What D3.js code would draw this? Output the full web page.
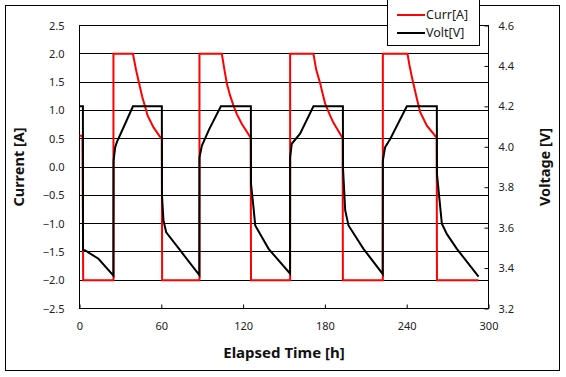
<!DOCTYPE html>
<html>
<head>
<meta charset="utf-8">
<script src="https://cdn.jsdelivr.net/npm/d3@7"></script>
<style>
  body { margin: 0; background: #fff; }
  text { font-family: "Noto Sans", "DejaVu Sans", sans-serif; }
</style>
</head>
<body>
<div id="chart"></div>
<script>
// current [A] vs elapsed time [h]
const currData = [
  [0, 0.55], [2.2, 0.55], [2.7, -2.0],
  [24.9, -2.0], [24.9, 2.0], [39.2, 2.0], [41.6, 1.70], [43.8, 1.47], [46.0, 1.24], [48.2, 1.06],
  [49.9, 0.91], [54.3, 0.70], [59.2, 0.53], [60.4, 0.50], [60.6, -2.0],
  [88.0, -2.0], [88.0, 2.0], [104.4, 2.0], [106.3, 1.72], [108.1, 1.47], [110.5, 1.26], [113.0, 1.08],
  [115.5, 0.93], [119.1, 0.76], [125.2, 0.53], [125.6, 0.50], [125.8, -2.0],
  [154.5, -2.0], [154.5, 2.0], [171.6, 2.0], [173.6, 1.72], [176.6, 1.47], [178.5, 1.28], [180.2, 1.12],
  [184.0, 0.90], [186.3, 0.78], [192.5, 0.53], [193.0, 0.50], [193.2, -2.0],
  [222.5, -2.0], [222.5, 2.0], [240.6, 2.0], [242.0, 1.80], [243.8, 1.59], [247.5, 1.20], [249.9, 0.97],
  [254.8, 0.73], [261.6, 0.53], [262.0, 0.50], [262.2, -2.0],
  [292.7, -2.0]
];

// voltage [V] vs elapsed time [h]
const voltData = [
  [0, 4.2], [2.5, 4.2], [2.6, 3.49], [4.2, 3.487], [13.9, 3.446], [24.9, 3.363],
  [25.0, 3.932], [26.2, 3.998], [27.4, 4.023], [33.5, 4.114], [39.2, 4.2], [60.4, 4.2],
  [60.5, 3.759], [61.6, 3.635], [63.6, 3.577], [73.9, 3.487], [87.9, 3.365],
  [88.0, 3.948], [89.8, 4.006], [95.0, 4.085], [103.7, 4.2], [125.7, 4.2],
  [125.8, 3.817], [127.6, 3.701], [128.9, 3.611], [138.7, 3.495], [154.4, 3.373],
  [154.5, 3.948], [155.7, 4.015], [161.8, 4.065], [171.6, 4.2], [193.2, 4.2],
  [193.3, 3.891], [194.9, 3.685], [197.3, 3.611], [208.3, 3.495], [222.4, 3.371],
  [222.5, 3.932], [224.2, 3.998], [227.9, 4.039], [240.1, 4.2], [262.1, 4.2],
  [262.2, 3.866], [264.6, 3.701], [265.8, 3.619], [269.4, 3.569], [276.8, 3.495], [292.7, 3.358]
];

const xTicks = [0, 60, 120, 180, 240, 300];
const currTicks = [-2.5, -2.0, -1.5, -1.0, -0.5, 0.0, 0.5, 1.0, 1.5, 2.0, 2.5];
const voltTicks = [3.2, 3.4, 3.6, 3.8, 4.0, 4.2, 4.4, 4.6];
const legendItems = [
  { label: "Curr[A]", color: "#ff0000" },
  { label: "Volt[V]", color: "#000000" }
];

const width = 566, height = 377;
const plot = { left: 79.5, right: 488.5, top: 25.5, bottom: 308.5 };

const svg = d3.select("#chart").append("svg")
  .attr("width", width)
  .attr("height", height);

// outer frame
svg.append("rect")
  .attr("x", 5.5).attr("y", 5.5)
  .attr("width", 554).attr("height", 365)
  .attr("fill", "none").attr("stroke", "#000").attr("stroke-width", 1);

const x = d3.scaleLinear().domain([0, 300]).range([plot.left, plot.right]);
const yC = d3.scaleLinear().domain([-2.5, 2.5]).range([plot.bottom, plot.top]);
const yV = d3.scaleLinear().domain([3.2, 4.6]).range([plot.bottom, plot.top]);

// gridlines (skip the two that sit on the border)
svg.append("g")
  .selectAll("line")
  .data(currTicks.slice(1, -1))
  .enter().append("line")
  .attr("x1", plot.left).attr("x2", plot.right)
  .attr("y1", d => Math.floor(yC(d)) + 0.5)
  .attr("y2", d => Math.floor(yC(d)) + 0.5)
  .attr("stroke", "#000").attr("stroke-width", 1);

// plot border
svg.append("rect")
  .attr("x", plot.left).attr("y", plot.top)
  .attr("width", plot.right - plot.left).attr("height", plot.bottom - plot.top)
  .attr("fill", "none").attr("stroke", "#000").attr("stroke-width", 1);

// axes
let xAxis = svg.append("g")
  .attr("transform", `translate(0,${plot.bottom})`)
  .call(d3.axisBottom(x).tickValues(xTicks).tickSizeInner(-4).tickSizeOuter(0).tickPadding(14));

let leftAxis = svg.append("g")
  .attr("transform", `translate(${plot.left},0)`)
  .call(d3.axisLeft(yC).tickValues(currTicks).tickFormat(d3.format(".1f")).tickSizeInner(0).tickSizeOuter(0).tickPadding(15));

let rightAxis = svg.append("g")
  .attr("transform", `translate(${plot.right},0)`)
  .call(d3.axisRight(yV).tickValues(voltTicks).tickFormat(d3.format(".1f")).tickSizeInner(-4).tickSizeOuter(0).tickPadding(10));

[xAxis, leftAxis, rightAxis].forEach(a => {
  a.select(".domain").remove();
  a.selectAll("text").attr("font-size", 11).attr("fill", "#222");
  a.selectAll("line").attr("stroke", "#000");
});

// series
const lineC = d3.line().x(d => x(d[0])).y(d => yC(d[1]));
const lineV = d3.line().x(d => x(d[0])).y(d => yV(d[1]));

svg.append("path")
  .datum(currData)
  .attr("d", lineC)
  .attr("fill", "none")
  .attr("stroke", "#ff0000")
  .attr("stroke-width", 2);

svg.append("path")
  .datum(voltData)
  .attr("d", lineV)
  .attr("fill", "none")
  .attr("stroke", "#000")
  .attr("stroke-width", 2);

// axis titles
svg.append("text")
  .attr("transform", `translate(${(plot.left + plot.right) / 2},358)`)
  .attr("text-anchor", "middle")
  .attr("font-size", 15)
  .attr("font-weight", "bold")
  .attr("fill", "#111")
  .text("Elapsed Time [h]");

svg.append("text")
  .attr("transform", `translate(24,${(plot.top + plot.bottom) / 2}) rotate(-90)`)
  .attr("text-anchor", "middle")
  .attr("font-size", 14.5)
  .attr("font-weight", "bold")
  .attr("fill", "#111")
  .text("Current [A]");

svg.append("text")
  .attr("transform", `translate(550,${(plot.top + plot.bottom) / 2}) rotate(-90)`)
  .attr("text-anchor", "middle")
  .attr("font-size", 14.5)
  .attr("font-weight", "bold")
  .attr("fill", "#111")
  .text("Voltage [V]");

// legend
let legend = svg.append("g").attr("class", "legend");
legend.append("rect")
  .attr("x", 387.5).attr("y", -5.5)
  .attr("width", 92).attr("height", 51)
  .attr("fill", "#fff").attr("stroke", "#000").attr("stroke-width", 1);

let items = legend.selectAll(".legend-item")
  .data(legendItems)
  .enter().append("g")
  .attr("class", "legend-item")
  .attr("transform", (d, i) => `translate(397,${15 + i * 18})`);

items.append("line")
  .attr("x1", 0).attr("x2", 28)
  .attr("y1", 0).attr("y2", 0)
  .attr("stroke", d => d.color)
  .attr("stroke-width", 2);

items.append("text")
  .attr("x", 29)
  .attr("y", 0)
  .attr("dy", "0.35em")
  .attr("font-size", 12.5)
  .attr("fill", "#222")
  .text(d => d.label);
</script>
</body>
</html>
